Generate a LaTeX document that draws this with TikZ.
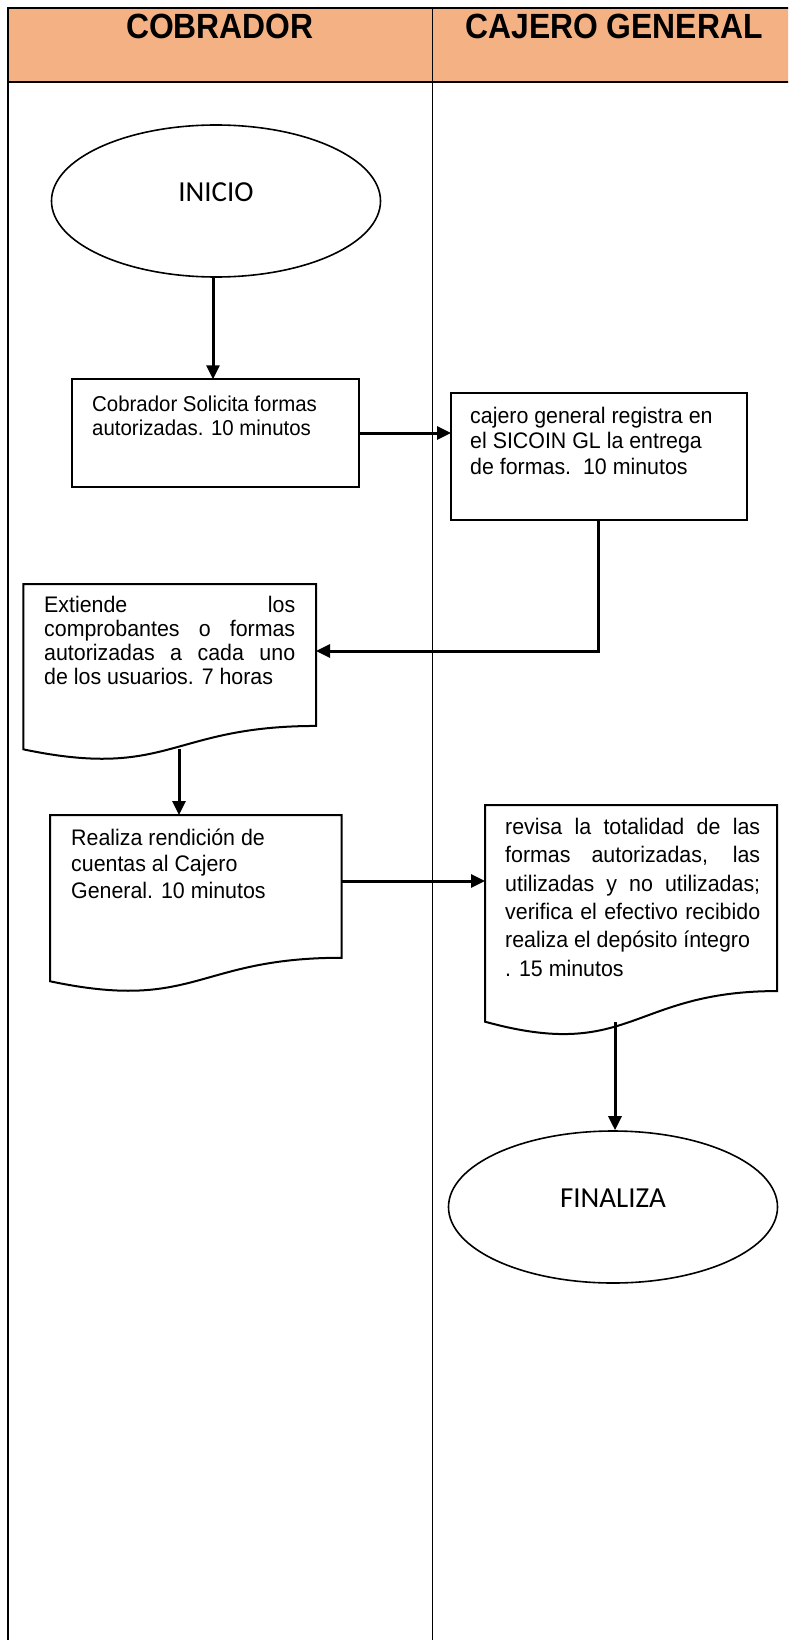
\documentclass[tikz,border=0pt]{standalone}
\usepackage{fontspec}
\setmainfont[FakeStretch=0.95]{Liberation Sans}
\newfontfamily\hdrfont[FakeStretch=0.91]{Liberation Sans}
\newfontfamily\calibfont{Carlito}
\usetikzlibrary{shapes.geometric,arrows.meta,calc}
\definecolor{hdr}{HTML}{F4B183}
\newcommand\fl{\rule{0pt}{22pt}}
\newcommand\docshape[5]{% name, left, top, right, height
  \node[procbox, minimum width={#4-#2}, minimum height={#5}] (#1) at ({(#2+#4)/2},{#3+#5/2}) {};
  \draw[shapeline] (#2,#3) -- (#4,#3) -- (#4,{#3+0.802*#5})
    .. controls ({(#2+#4)/2},{#3+0.802*#5}) and ({(#2+#4)/2},{#3+1.1075*#5}) .. (#2,{#3+0.934*#5}) -- cycle;}
\begin{document}
\begin{tikzpicture}[x=1pt,y=-1pt,
  tbl/.style={line width=1.5pt},
  procbox/.style={rectangle, inner sep=0pt, outer sep=0pt},
  rectbox/.style={procbox, draw, line width=2pt},
  shapeline/.style={line width=2pt, line join=miter},
  term/.style={ellipse, draw, line width=1.6pt, minimum width=329pt, minimum height=152pt, inner sep=0pt,
    font=\calibfont\fontsize{29}{34}\selectfont},
  body/.style={anchor=north west, inner sep=0pt, align=left, font=\fontsize{22.5}{24}\selectfont},
  conn/.style={line width=3pt, -{Triangle[length=14pt,width=13pt]}},
  hdrtext/.style={font=\hdrfont\bfseries\fontsize{35}{40}\selectfont, anchor=base, inner sep=0pt}
]
\useasboundingbox (0,0) rectangle (788,1640);
\clip (0,0) rectangle (788,1640);

% table
\fill[hdr] (8,8) rectangle (800,82);
\draw[tbl] (800,8) -- (8,8) -- (8,1660);
\draw[tbl] (8,82) -- (800,82);
\draw[tbl] (432.5,8) -- (432.5,1660);
\node[hdrtext] (h1) at (220,39) {COBRADOR};
\node[hdrtext] (h2) at (614,39) {CAJERO GENERAL};

% terminals
\node[term] (inicio) at (216,201) {\smash{INICIO}};
\node[term] (finaliza) at (613,1207) {\smash{FINALIZA}};

% process boxes
\node[rectbox, minimum width=287.5pt, minimum height=107.4pt] (box1) at (215.25,433) {};
\node[body, font=\fontsize{21.5}{24}\selectfont] (t1) at (92,389) {\fl Cobrador Solicita formas\\autorizadas. 10 minutos};

\node[rectbox, minimum width=295.7pt, minimum height=126.7pt] (box2) at (598.85,456.65) {};
\node[body, font=\fontsize{22.5}{25.5}\selectfont] (t2) at (470,401) {\fl cajero general registra en\\el SICOIN GL la entrega\\de formas.\ \ 10 minutos};

% document shapes
\docshape{box3}{23.3}{584}{316}{177}
\node[body] (t3) at (44,590) {\fl\makebox[251pt][s]{Extiende los}\\\makebox[251pt][s]{comprobantes o formas}\\\makebox[251pt][s]{autorizadas a cada uno}\\de los usuarios. 7 horas};

\docshape{box4}{50}{815}{341.7}{178}
\node[body, font=\fontsize{22.5}{26.5}\selectfont] (t4) at (71,823) {\fl Realiza rendición de\\cuentas al Cajero\\General. 10 minutos};

\docshape{box5}{485}{805}{777}{232}
\node[body, font=\fontsize{22.5}{28.4}\selectfont] (t5) at (505,812) {\fl\makebox[255pt][s]{revisa la totalidad de las}\\\makebox[255pt][s]{formas autorizadas, las}\\\makebox[255pt][s]{utilizadas y no utilizadas;}\\\makebox[255pt][s]{verifica el efectivo recibido}\\realiza el depósito íntegro\\. 15 minutos};

% connectors
\coordinate (a1s) at ([xshift=-3pt]inicio.south);
\coordinate (b3in) at (316,651);
\coordinate (b3out) at (179,749);
\coordinate (b4out) at (341.7,881);
\coordinate (b5out) at (615,1022);
\draw[conn] (a1s) -- (a1s |- box1.north);
\draw[conn] (box1.east) -- (box1.east -| box2.west);
\draw[conn] (box2.south) |- (b3in);
\draw[conn] (b3out) -- (b3out |- box4.north);
\draw[conn] (b4out) -- (b4out -| box5.west);
\draw[conn] (b5out) -- (b5out |- finaliza.north);
\end{tikzpicture}
\end{document}
